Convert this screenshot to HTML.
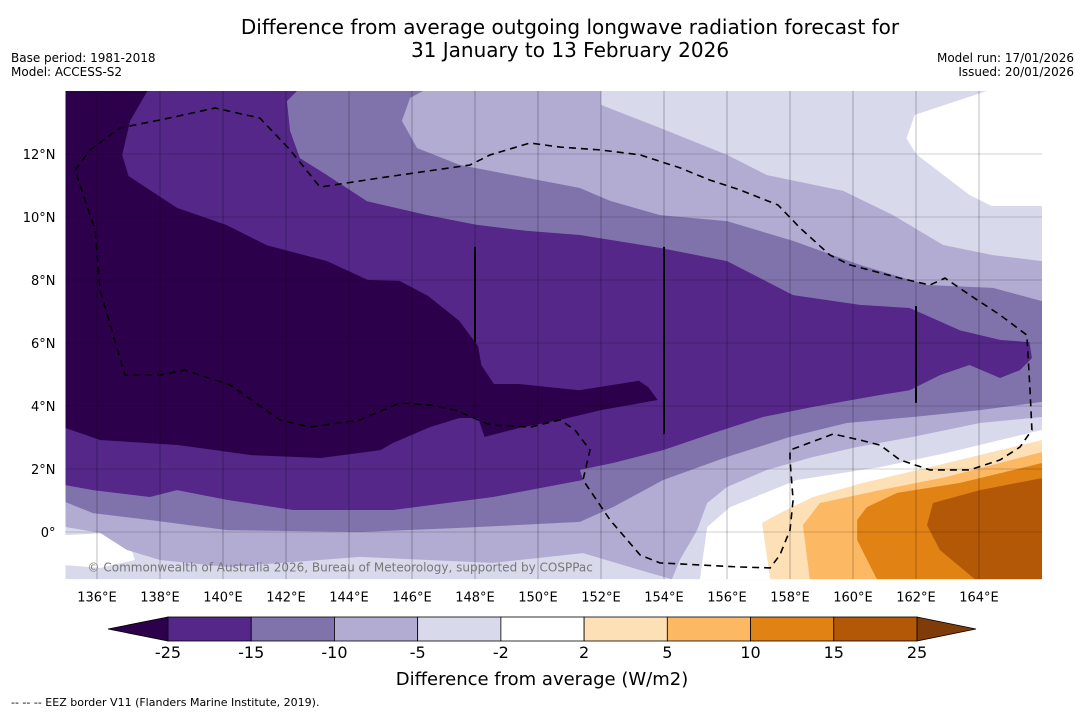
<!DOCTYPE html>
<html><head><meta charset="utf-8"><style>
body{margin:0;background:#fff;width:1085px;height:713px;overflow:hidden;font-family:"Liberation Sans","DejaVu Sans",sans-serif}
svg text{font-family:"DejaVu Sans","Liberation Sans",sans-serif}
</style></head><body>
<svg id="s" width="1085" height="713">
<text x="570" y="34" font-size="20" text-anchor="middle">Difference from average outgoing longwave radiation forecast for</text>
<text x="570" y="57" font-size="20" text-anchor="middle">31 January to 13 February 2026</text>
<text x="11" y="62" font-size="12">Base period: 1981-2018</text>
<text x="11" y="76" font-size="12">Model: ACCESS-S2</text>
<text x="1074" y="62" font-size="12" text-anchor="end">Model run: 17/01/2026</text>
<text x="1074" y="76" font-size="12" text-anchor="end">Issued: 20/01/2026</text>
<g id="map"></g>
<g id="cb"></g>
<text x="542" y="685" font-size="18" text-anchor="middle">Difference from average (W/m2)</text>
<text x="11" y="706" font-size="11">--  --  -- EEZ border V11 (Flanders Marine Institute, 2019).</text>
</svg>
<script>
const NS='http://www.w3.org/2000/svg';
const lonTicks=[136,138,140,142,144,146,148,150,152,154,156,158,160,162,164];
const latTicks=[0,2,4,6,8,10,12];
const cbLevels=[-25,-15,-10,-5,-2,2,5,10,15,25];
const cbColors=['#542788','#8073ac','#b2abd2','#d8daeb','#ffffff','#fee0b6','#fdb863','#e08214','#b35806'];
const cbLow='#2d004b', cbHigh='#7f3b08';
// contour regions in [lon,lat]
const regLe5=[[135,14],[152.0,14],[152.0,13.56],[153.87,12.83],[156.0,11.97],[157.27,11.33],[159.69,10.83],[161.27,10.06],[162.86,9.11],[164.44,8.79],[166,8.6],[166,3.65],[164.03,3.46],[161.9,3.02],[160.13,2.7],[158.73,2.38],[157.27,1.97],[156.0,1.43],[155.37,0.92],[155.05,0.06],[154.5,-0.89],[154.25,-1.5],[153.24,-1.21],[151.43,-0.67],[148.57,-0.98],[144.35,-0.79],[140.13,-1.11],[138.0,-0.89],[136.95,-0.57],[136.1,-0.03],[135,0.16]];
const regLe10=[[135,14],[146.35,14],[145.94,13.78],[145.68,13.05],[146.16,12.19],[147.52,11.65],[149.65,11.24],[151.33,10.92],[152.29,10.51],[153.87,10.06],[156.0,9.87],[158.1,9.24],[160.22,8.48],[162.35,7.84],[164.44,7.75],[166,7.33],[166,4.13],[164.03,3.87],[161.9,3.65],[159.8,3.46],[158.0,3.02],[156.0,2.38],[153.97,1.65],[152.38,0.79],[151.33,0.32],[147.52,0.13],[144.35,0.0],[140.13,0.06],[137.68,0.38],[135.87,0.6],[135,0.95]];
const regLe15=[[135,14],[142.35,14],[142.03,13.68],[142.13,12.73],[142.44,11.87],[143.3,11.33],[144.57,10.5],[146.48,10.06],[148.06,9.75],[149.65,9.56],[151.33,9.43],[153.87,9.02],[156.0,8.6],[158.1,7.52],[160.22,7.21],[161.8,7.11],[163.4,6.4],[164.67,6.1],[165.6,6.03],[165.68,5.52],[165.3,5.14],[164.67,4.89],[163.7,5.3],[162.76,4.98],[161.8,4.5],[160.86,4.35],[158.73,3.97],[157.14,3.65],[155.56,3.14],[153.97,2.6],[152.38,2.19],[151.33,1.97],[151.43,1.65],[148.57,1.11],[145.4,0.7],[142.22,0.7],[140.13,1.02],[138.54,1.33],[137.68,1.11],[135.87,1.33],[135,1.49]];
const regLe25=[[135,14],[137.6,14],[137.05,13.05],[136.8,11.97],[137.0,11.3],[138.54,10.29],[140.1,9.75],[141.4,9.1],[143.3,8.6],[144.6,8.0],[145.6,7.97],[146.5,7.5],[147.5,6.7],[147.9,6.16],[148.1,5.9],[148.2,5.3],[148.6,4.7],[149.4,4.7],[151.3,4.5],[153.2,4.8],[153.5,4.6],[153.8,4.19],[152.0,3.87],[150.7,3.56],[149.4,3.3],[148.3,3.02],[148.1,3.62],[147.5,3.62],[146.57,3.33],[145.4,2.83],[145.0,2.6],[143.1,2.35],[140.9,2.44],[138.6,2.76],[136.1,2.92],[135,3.3]];
const whiteTR=[[164.25,14],[166,14],[166,10.35],[164.4,10.35],[163.7,10.7],[162.0,12.0],[161.7,12.5],[161.96,13.24]];
const whiteBR=[[155.14,-1.5],[155.37,0.16],[156.1,0.79],[158.22,1.65],[160.86,2.06],[162.98,2.51],[166,3.24],[166,-1.5]];
const whiteBL=[[135,-0.1],[136.41,-0.03],[137.05,-0.41],[137.2,-0.89],[136.1,-1.14],[135,-1.05]];
const regGe2=[[157.37,-1.5],[157.11,0.29],[157.68,0.6],[158.73,1.11],[160.32,1.56],[162.44,2.06],[166,2.92],[166,-1.5]];
const regGe5=[[158.63,-1.5],[158.41,0.22],[158.95,0.92],[160.86,1.33],[162.98,1.75],[166,2.54],[166,-1.5]];
const regGe10=[[160.76,-1.5],[160.13,-0.25],[160.13,0.38],[160.44,0.79],[161.4,1.24],[163.4,1.56],[166,2.19],[166,-1.5]];
const regGe15=[[163.87,-1.5],[162.76,-0.57],[162.35,0.22],[162.54,0.92],[164.03,1.33],[166,1.71],[166,-1.5]];
const eez=[[135.3,11.49],[135.78,12.13],[136.73,12.83],[138.0,13.08],[139.75,13.46],[141.17,13.14],[142.13,12.13],[143.08,10.95],[144.98,11.24],[147.84,11.65],[148.48,11.97],[149.75,12.35],[150.7,12.22],[151.97,12.13],[153.24,11.97],[154.51,11.56],[155.46,11.17],[156.41,10.86],[157.62,10.38],[158.32,9.65],[159.27,8.79],[159.9,8.48],[161.49,8.06],[162.44,7.84],[162.92,8.06],[163.71,7.52],[164.67,6.89],[165.52,6.25],[165.62,4.51],[165.68,3.24],[165.3,2.7],[164.67,2.29],[163.71,1.97],[162.44,1.97],[161.49,2.29],[160.86,2.76],[160.22,2.92],[159.37,3.11],[158.0,2.6],[158.0,2.29],[158.1,1.02],[158.0,0.06],[157.68,-0.73],[157.37,-1.14],[156.41,-1.11],[153.87,-0.98],[153.24,-0.73],[152.29,0.38],[151.43,1.65],[151.65,2.6],[151.17,3.24],[150.7,3.56],[149.75,3.33],[148.48,3.4],[147.37,3.87],[146.57,4.03],[145.62,4.1],[144.35,3.56],[142.76,3.33],[141.81,3.56],[140.22,4.67],[138.79,5.14],[138.0,4.98],[136.89,4.98],[136.1,7.68],[135.94,9.59],[135.3,11.49]];
const dateLines=[[148,9.05,6.03],[154,9.05,3.11],[162,7.17,4.1]];

const X0=65.5,Y0=91,PX=31.5,LONMIN=135,LATMAX=14;
const xs=lon=>X0+(lon-LONMIN)*PX;
const ys=lat=>Y0+(LATMAX-lat)*PX;
const map=document.getElementById('map');
function mk(tag,attrs,parent){const e=document.createElementNS(NS,tag);for(const k in attrs)e.setAttribute(k,attrs[k]);parent.appendChild(e);return e;}
function pts(a){return a.map(p=>xs(p[0]).toFixed(1)+','+ys(p[1]).toFixed(1)).join(' ');}
const defs=mk('defs',{},map);
const cp=mk('clipPath',{id:'clip'},defs);
mk('rect',{x:xs(135),y:ys(14),width:xs(166)-xs(135),height:ys(-1.5)-ys(14)},cp);
const g=mk('g',{'clip-path':'url(#clip)'},map);
const bg=mk('rect',{x:xs(135),y:ys(14),width:xs(166)-xs(135),height:ys(-1.5)-ys(14),fill:'#d8daeb'},g);


const layers=[[whiteTR,'#ffffff','white-region-north'],[whiteBR,'#ffffff','white-region-south-east'],[whiteBL,'#ffffff','white-region-south-west'],[regLe5,'#b2abd2','band-minus10-minus5'],[regLe10,'#8073ac','band-minus15-minus10'],[regLe15,'#542788','band-minus25-minus15'],[regLe25,'#2d004b','band-below-minus25'],[regGe2,'#fee0b6','band-2-5'],[regGe5,'#fdb863','band-5-10'],[regGe10,'#e08214','band-10-15'],[regGe15,'#b35806','band-15-25']];
layers.forEach(l=>{const p=mk('polygon',{points:pts(l[0]),fill:l[1]},g);

});
lonTicks.forEach(t=>{const l=mk('line',{x1:xs(t),x2:xs(t),y1:ys(14),y2:ys(-1.5),stroke:'rgba(0,0,0,0.22)','stroke-width':1.2},g);


const tx=mk('text',{x:xs(t),y:ys(-1.5)+22,'font-size':13,'text-anchor':'middle'},map);tx.textContent=t+'°E';

});
latTicks.forEach(t=>{const l=mk('line',{x1:xs(135),x2:xs(166),y1:ys(t),y2:ys(t),stroke:'rgba(0,0,0,0.35)','stroke-width':1,'stroke-dasharray':'1,1'},g);


const tx=mk('text',{x:xs(135)-10,y:ys(t)+5,'font-size':13,'text-anchor':'end'},map);tx.textContent=t===0?'0°':t+'°N';

});
const ez=mk('polyline',{points:pts(eez),fill:'none',stroke:'#000','stroke-width':1.6,'stroke-dasharray':'7,5'},g);


dateLines.forEach(d=>{const l=mk('line',{x1:xs(d[0]),x2:xs(d[0]),y1:ys(d[1]),y2:ys(d[2]),stroke:'#000','stroke-width':2},g);

});
const cr=mk('text',{x:xs(135.7),y:ys(-1.5)-8,'font-size':12,fill:'#777'},g);cr.textContent='© Commonwealth of Australia 2026, Bureau of Meteorology, supported by COSPPac';


// colorbar
const cb=document.getElementById('cb');
const CBX0=168,CBX1=917,CBY=617,CBH=24,n=cbColors.length,w=(CBX1-CBX0)/n;
const cbx=i=>CBX0+i*w;
mk('polygon',{points:`${CBX0},${CBY} 108,${CBY+CBH/2} ${CBX0},${CBY+CBH}`,fill:cbLow,stroke:'#000','stroke-width':0.8},cb);
mk('polygon',{points:`${CBX1},${CBY} 976,${CBY+CBH/2} ${CBX1},${CBY+CBH}`,fill:cbHigh,stroke:'#000','stroke-width':0.8},cb);
cbColors.forEach((c,i)=>{const r=mk('rect',{x:cbx(i),y:CBY,width:w,height:CBH,fill:c,stroke:'#000','stroke-width':0.8},cb);

});
cbLevels.forEach((v,i)=>{const t=mk('text',{x:cbx(i),y:CBY+CBH+17,'font-size':16,'text-anchor':'middle'},cb);t.textContent=v;

});
</script>
</body></html>
